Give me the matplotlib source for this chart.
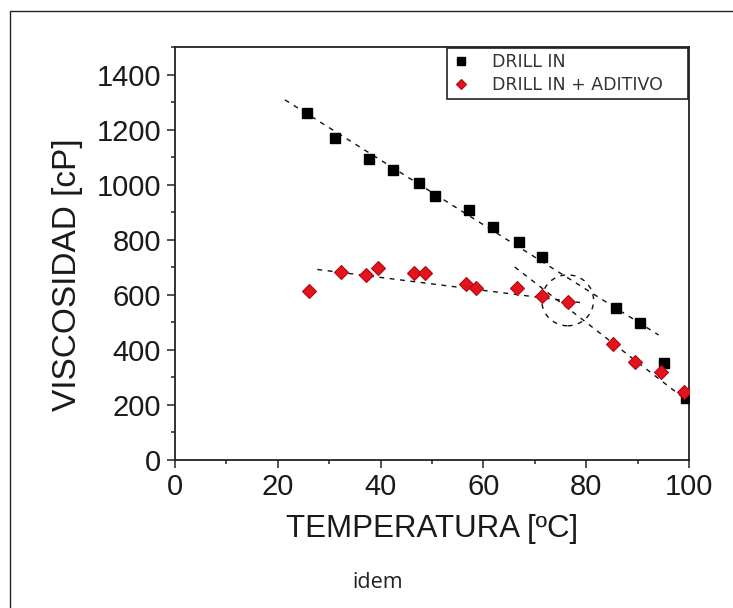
import matplotlib
matplotlib.use("Agg")
import matplotlib.pyplot as plt
from matplotlib.patches import Ellipse, Rectangle
from matplotlib.ticker import MultipleLocator

# DRILL IN (black squares)
temp_drill = [25.6, 31.2, 37.8, 42.5, 47.5, 50.5, 57.2, 61.8, 66.9, 71.5,
              85.8, 90.4, 95.2, 99.5]
visc_drill = [1262, 1171, 1093, 1052, 1006, 960, 909, 846, 792, 737,
              553, 497, 352, 225]

# DRILL IN + ADITIVO (red diamonds)
temp_adit = [26.1, 32.3, 37.1, 39.5, 46.6, 48.7, 56.6, 58.5, 66.6, 71.5,
             76.4, 85.3, 89.5, 94.5, 99.1]
visc_adit = [615, 682, 671, 696, 678, 678, 640, 626, 623, 594,
             574, 421, 355, 319, 246]

# dashed trend lines, as drawn in the original (end points)
trend_drill_x = [21.4, 94.1]
trend_drill_y = [1308, 454]
trend_low_x = [27.7, 78.8]
trend_low_y = [692, 572]
trend_high_x = [66.1, 99.6]
trend_high_y = [701, 216]

cross_idx = 10  # highlighted point of the additive series

plt.rcParams['font.family'] = ['Liberation Sans', 'DejaVu Sans']

fig = plt.figure(figsize=(7.33, 6.08), dpi=100)
ax = fig.add_axes([0.2387, 0.2434, 0.7012, 0.6793])

# outer frame of the picture
fig.patches.append(Rectangle((10 / 733, -0.1), 1.2, 1 - 11 / 608 + 0.1,
                             transform=fig.transFigure, fill=False,
                             ec='#222222', lw=1.0))

for tx, ty in [(trend_drill_x, trend_drill_y), (trend_low_x, trend_low_y),
               (trend_high_x, trend_high_y)]:
    ax.plot(tx, ty, color='#111111', lw=1.0, dashes=(3.5, 4), zorder=2)

ax.add_patch(Ellipse((temp_adit[cross_idx], visc_adit[cross_idx] + 6), 10.1, 185,
                     fill=False, ec='#111111', lw=1.0, ls=(0, (3.5, 4)),
                     zorder=2))

ax.plot(temp_drill, visc_drill, ls='none', marker='s', ms=7, color='black',
        label='DRILL IN', zorder=3)
ax.plot(temp_adit, visc_adit, ls='none', marker='D', ms=7, mfc='#e3141b',
        mec='#b00a10', mew=0.8, label='DRILL IN + ADITIVO', zorder=4)

ax.set_xlim(0, 100)
ax.set_ylim(0, 1500)
ax.xaxis.set_major_locator(MultipleLocator(20))
ax.xaxis.set_minor_locator(MultipleLocator(10))
ax.yaxis.set_major_locator(MultipleLocator(200))
ax.yaxis.set_minor_locator(MultipleLocator(100))
ax.tick_params(which='both', direction='out', top=False, right=False,
               width=1.1, color='#222222', labelcolor='#1a1a1a')
ax.tick_params(which='major', length=6, labelsize=21)
ax.tick_params(axis='y', which='major', pad=4)
ax.tick_params(axis='x', which='major', pad=3)
ax.tick_params(which='minor', length=3)
for s in ax.spines.values():
    s.set_linewidth(1.3)
    s.set_color('#222222')

ax.set_xlabel('TEMPERATURA [ºC]', fontsize=22.5, color='#1a1a1a', labelpad=10)
ax.set_ylabel('VISCOSIDAD [cP]', fontsize=24, color='#1a1a1a')
ax.yaxis.set_label_coords(-0.178, 0.448)

leg = ax.legend(loc='upper right', bbox_to_anchor=(0.529, 0.872, 0.469, 0.126),
                mode='expand', borderaxespad=0, fancybox=False,
                edgecolor='#222222', framealpha=1, handlelength=1.0,
                handletextpad=1.3, borderpad=0.3, labelspacing=0.3,
                markerscale=0.8, prop={'family': 'DejaVu Sans', 'size': 12.5})
leg.get_frame().set_linewidth(1.2)
for t in leg.get_texts():
    t.set_color('#333333')

fig.text(378 / 733, 1 - 583 / 608, 'idem', family='Open Sans', fontsize=15.5,
         color='#222222', ha='center', va='center')

fig.savefig('out.png', dpi=100)
